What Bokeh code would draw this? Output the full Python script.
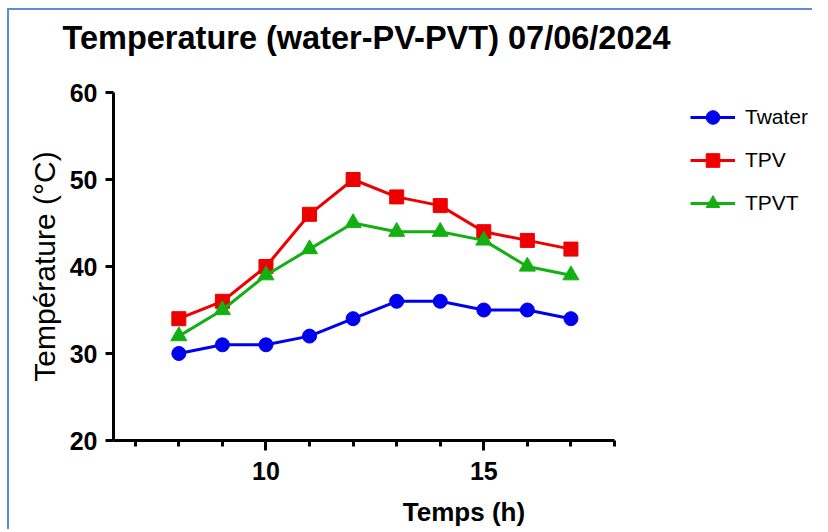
from bokeh.plotting import figure
from bokeh.models import FixedTicker, Legend, LegendItem, Range1d
from bokeh.embed import file_html
from bokeh.resources import INLINE

hours = [8, 9, 10, 11, 12, 13, 14, 15, 16, 17]
t_water = [30, 31, 31, 32, 34, 36, 36, 35, 35, 34]
t_pv = [34, 36, 40, 46, 50, 48, 47, 44, 43, 42]
t_pvt = [32, 35, 39, 42, 45, 44, 44, 43, 40, 39]
x_major = [10, 15]
x_minor = [7, 8, 9, 11, 12, 13, 14, 16, 17, 18]
y_major = [20, 30, 40, 50, 60]
x_axis_span = (6.5, 18)
y_axis_span = (20, 60)

FONT = "Liberation Sans"
W, H = 805, 521
FL, FT = 104, 82          # frame left / top inside canvas
AXW, FH = 501, 348        # drawn x-axis length, frame height
FW = W - FL               # frame extends right so the legend is not clipped
ppu = AXW / (x_axis_span[1] - x_axis_span[0])
x_end = x_axis_span[0] + FW / ppu

p = figure(width=W, height=H, output_backend="svg", toolbar_location=None,
           x_range=Range1d(x_axis_span[0], x_end), y_range=Range1d(*y_axis_span),
           min_border_left=FL, min_border_right=0,
           min_border_top=FT, min_border_bottom=H - FT - FH,
           title="Temperature (water-PV-PVT) 07/06/2024\n")
p.styles = {"border-top": "2px solid #5b8ed6", "border-left": "2px solid #5b8ed6",
            "margin-left": "7px", "margin-top": "8px"}
p.outline_line_color = None
p.grid.visible = False
p.background_fill_color = "white"
p.border_fill_color = "white"

p.title.text_font = FONT
p.title.text_font_style = "bold"
p.title.text_font_size = "32.5px"
p.title.text_line_height = 0.97
p.title.text_color = "black"
p.title.align = "left"
p.title.offset = -51
p.title.standoff = 3

p.xaxis.ticker = FixedTicker(ticks=x_major, minor_ticks=x_minor)
p.yaxis.ticker = FixedTicker(ticks=y_major, minor_ticks=[])
p.xaxis.bounds = x_axis_span
for ax in (p.xaxis[0], p.yaxis[0]):
    ax.axis_line_width = 3
    ax.axis_line_color = "black"
    ax.major_tick_line_width = 3
    ax.minor_tick_line_width = 3
    ax.major_tick_in = 0
    ax.minor_tick_in = 0
    ax.major_label_text_font = FONT
    ax.major_label_text_font_style = "bold"
    ax.major_label_text_font_size = "25px"
    ax.major_label_text_color = "black"
    ax.axis_label_text_font = FONT
    ax.axis_label_text_color = "black"
p.xaxis.axis_label_text_font_style = "bold"
p.xaxis.axis_label_text_font_size = "26px"
p.yaxis.axis_label_text_font_style = "normal"
p.yaxis.axis_label_text_font_size = "30px"
p.xaxis.major_tick_out = 10
p.xaxis.minor_tick_out = 6
p.yaxis.major_tick_out = 8
p.xaxis.major_label_standoff = 11
p.yaxis.major_label_standoff = 8
p.xaxis.axis_label = "Temps (h)"
p.yaxis.axis_label = "Température (°C)"
p.xaxis.axis_label_standoff = 14
p.yaxis.axis_label_standoff = 6

series = [("Twater", t_water, "#0000F0", "circle", 14),
          ("TPV", t_pv, "#EE0000", "square", 14),
          ("TPVT", t_pvt, "#12B012", "triangle", 16)]
items = []
for name, ys, col, mk, sz in series:
    ln = p.line(hours, ys, line_color=col, line_width=3)
    sc = p.scatter(hours, ys, marker=mk, size=sz, fill_color=col, line_color=col)
    items.append(LegendItem(label=name, renderers=[ln, sc]))

legend = Legend(items=items, location=(577, 220))
legend.padding = 0
legend.margin = 0
legend.border_line_color = None
legend.background_fill_alpha = 0
legend.glyph_width = 45
legend.glyph_height = 34
legend.label_height = 24
legend.spacing = 9
legend.label_standoff = 10
legend.label_text_font = FONT
legend.label_text_font_size = "21px"
legend.label_text_color = "black"
p.add_layout(legend)

open("out.html", "w").write(file_html(p, INLINE))
